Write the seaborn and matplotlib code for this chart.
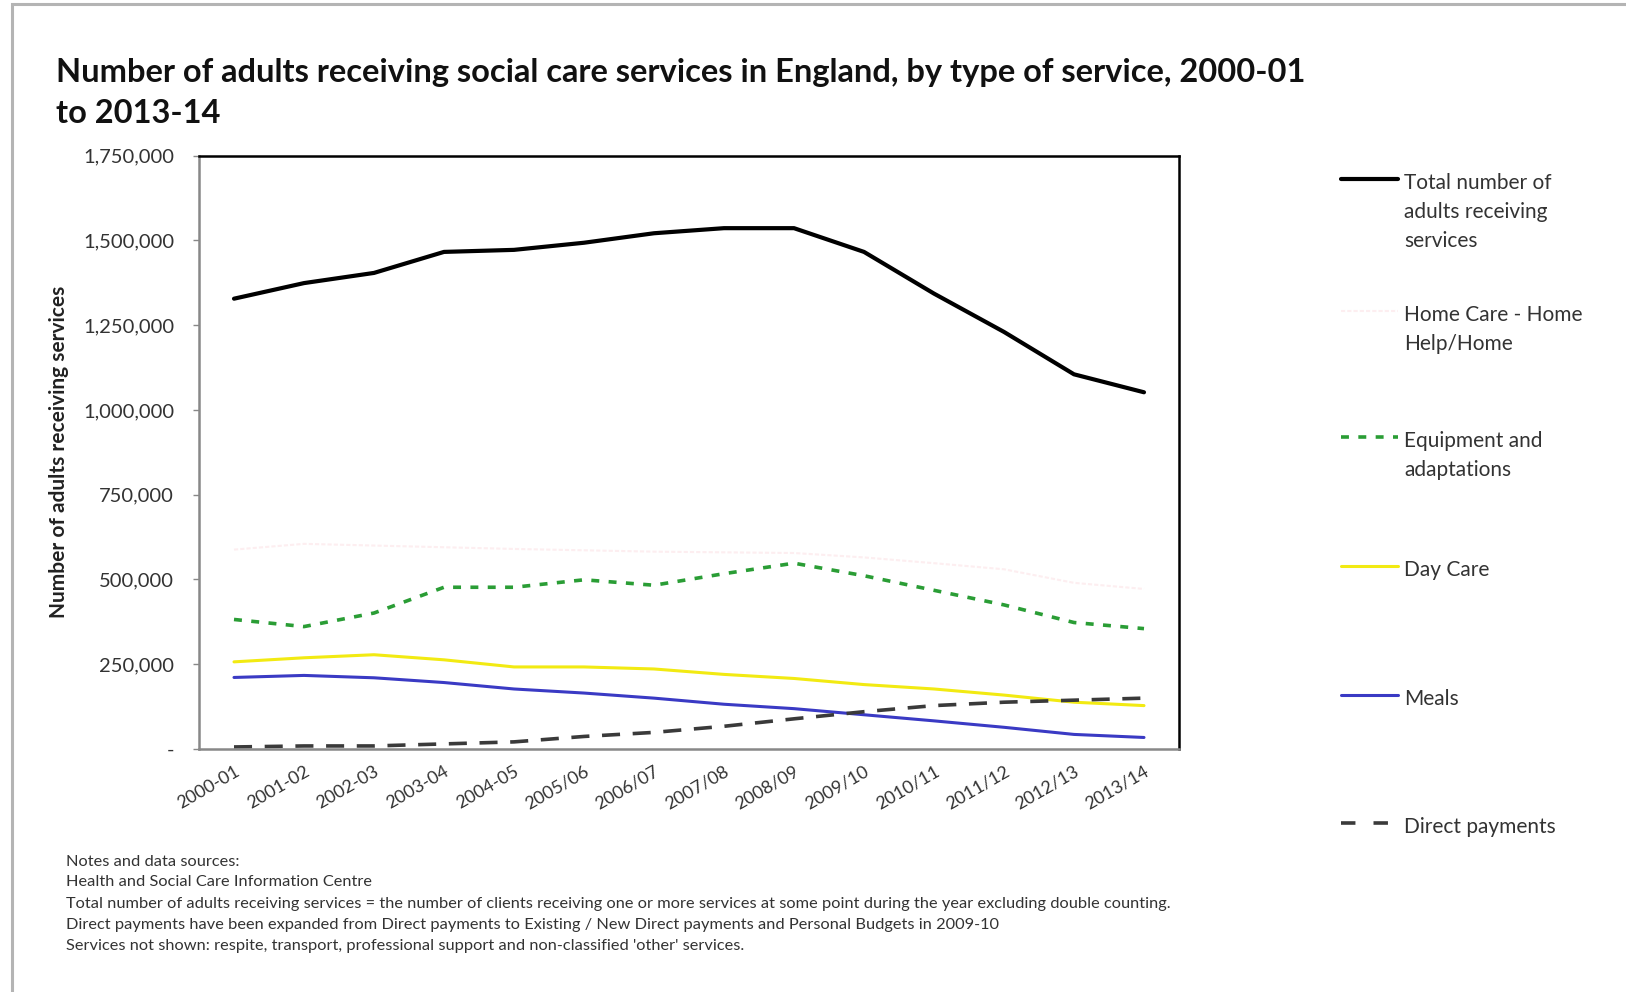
import numpy as np
import pandas as pd
import matplotlib
matplotlib.use("Agg")
import matplotlib.pyplot as plt
from matplotlib.lines import Line2D
from matplotlib.patches import Rectangle
from matplotlib.ticker import FuncFormatter
import seaborn as sns

# --- dados ---
years = ["2000-01", "2001-02", "2002-03", "2003-04", "2004-05", "2005/06", "2006/07",
         "2007/08", "2008/09", "2009/10", "2010/11", "2011/12", "2012/13", "2013/14"]

total = [1328000, 1374000, 1404000, 1466000, 1472000, 1493000, 1521000,
         1536000, 1536000, 1466000, 1343000, 1230000, 1105000, 1052000]
home_care = [588000, 605000, 600000, 595000, 590000, 586000, 582000,
             580000, 578000, 565000, 548000, 530000, 490000, 472000]
equipment = [382000, 361000, 401000, 477000, 477000, 499000, 483000,
             517000, 548000, 511000, 468000, 425000, 373000, 355000]
day_care = [257000, 269000, 278000, 263000, 242000, 242000, 236000,
            220000, 208000, 190000, 177000, 159000, 138000, 128000]
meals = [211000, 217000, 210000, 196000, 177000, 165000, 150000,
         132000, 119000, 101000, 83000, 64000, 43000, 34000]
direct_payments = [6000, 9000, 9000, 15000, 21000, 37000, 49000,
                   67000, 89000, 110000, 128000, 138000, 144000, 150000]

series_labels = ["Total number of\nadults receiving\nservices", "Home Care - Home\nHelp/Home",
                 "Equipment and\nadaptations", "Day Care", "Meals", "Direct payments"]
yticks = [0, 250000, 500000, 750000, 1000000, 1250000, 1500000, 1750000]

title = ("Number of adults receiving social care services in England, by type of service, 2000-01\n"
         "to 2013-14")
notes = ["Notes and data sources:",
         "Health and Social Care Information Centre",
         "Total number of adults receiving services = the number of clients receiving one or more services at some point during the year excluding double counting.",
         "Direct payments have been expanded from Direct payments to Existing / New Direct payments and Personal Budgets in 2009-10",
         "Services not shown: respite, transport, professional support and non-classified 'other' services."]

# --- estilos ---
styles = [
    dict(color="black", lw=3.0, ls="-"),
    dict(color="#fdeef0", lw=1.5, ls=(0, (2, 1))),
    dict(color="#2a9d35", lw=2.6, ls=(0, (2.2, 2.6))),
    dict(color="#f2ea12", lw=2.2, ls="-"),
    dict(color="#3a3ac4", lw=2.2, ls="-"),
    dict(color="#3a3a3a", lw=2.6, ls=(0, (5, 3.5))),
]

sns.set_style("white")
plt.rcParams["font.family"] = ["Lato", "DejaVu Sans"]

W, H = 1626, 992
fig = plt.figure(figsize=(W / 100, H / 100), dpi=100)
ax = fig.add_axes([199 / W, 1 - 749 / H, 980 / W, (749 - 155.6) / H])

pos = np.arange(len(years))
all_series = [total, home_care, equipment, day_care, meals, direct_payments]
for vals, st in zip(all_series, styles):
    df = pd.DataFrame({"pos": pos, "value": vals})
    sns.lineplot(data=df, x="pos", y="value", ax=ax, color=st["color"],
                 linewidth=st["lw"], linestyle=st["ls"], sort=False)

ax.set_xlim(-0.5, len(years) - 0.5)
ax.set_ylim(0, 1750000)
ax.set_yticks(yticks)
ax.yaxis.set_major_formatter(FuncFormatter(lambda v, p: "-" if v == 0 else f"{int(v):,}"))
ax.set_xticks(pos)
ax.set_xticklabels(years, rotation=30, ha="right", rotation_mode="anchor",
                   fontsize=13, color="#333333")
ax.tick_params(axis="x", length=0, pad=10)
ax.tick_params(axis="y", length=4, width=1, color="#888888", left=True,
               labelsize=14.5, colors="#333333", pad=14)
ax.set_xlabel("")
ax.set_ylabel("Number of adults receiving services", fontsize=15, fontweight="bold",
              color="#222222", labelpad=10)
for side in ["top", "right"]:
    ax.spines[side].set_color("black")
    ax.spines[side].set_linewidth(1.8)
for side in ["left", "bottom"]:
    ax.spines[side].set_color("#888888")
    ax.spines[side].set_linewidth(1.8)

# --- título ---
fig.text(56 / W, 1 - 58 / H, title, fontsize=23.5, fontweight="bold", color="#111111",
         va="top", ha="left", linespacing=1.5)

# --- legenda manual à direita ---
leg_y = [179, 311, 437, 566, 695, 823]
for lab, st, yy in zip(series_labels, styles, leg_y):
    yf = 1 - yy / H
    if st["color"] == "#3a3a3a":
        ls = (0, (4, 5))
    else:
        ls = st["ls"]
    fig.add_artist(Line2D([1341 / W, 1398 / W], [yf, yf], color=st["color"],
                          lw=st["lw"], ls=ls, transform=fig.transFigure))
    fig.text(1404 / W, yf + 6 / H, lab, fontsize=15, color="#333333", va="top",
             ha="left", linespacing=1.55)

# --- notas ---
note_y = [862, 882, 904, 925, 946]
for txt, yy in zip(notes, note_y):
    fig.text(66 / W, 1 - yy / H, txt, fontsize=11.8, color="#333333", va="center", ha="left")

# moldura cinzenta
fig.add_artist(Rectangle((12 / W, -0.1), 1.2, 1 - 4 / H + 0.1, transform=fig.transFigure,
                         fill=False, edgecolor="#b4b4b4", lw=2.2))

fig.savefig("out.png", dpi=100, facecolor="white")
